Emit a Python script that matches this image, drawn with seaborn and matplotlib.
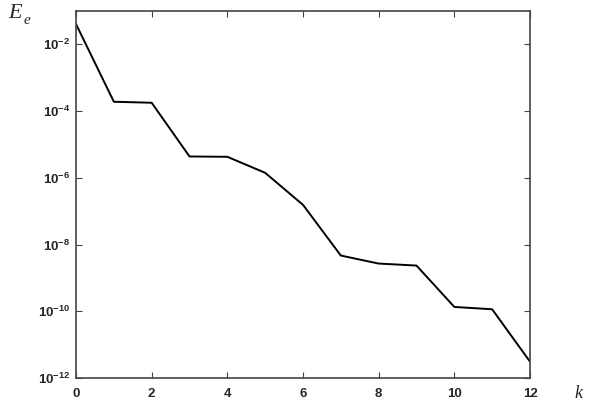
import matplotlib
matplotlib.use('Agg')
import matplotlib.pyplot as plt
import seaborn as sns
import pandas as pd
import numpy as np

# valores (log10 del error)
k_values = [0, 1, 2, 3, 4, 5, 6, 7, 8, 9, 10, 11, 12]
log_error = [-1.39, -3.72, -3.75, -5.36, -5.37, -5.85, -6.81,
             -8.33, -8.57, -8.63, -9.87, -9.94, -11.51]
y_ticks = [1e-12, 1e-10, 1e-8, 1e-6, 1e-4, 1e-2]
y_tick_labels = ['10$^{-12}$', '10$^{-10}$', '10$^{-8}$', '10$^{-6}$', '10$^{-4}$', '10$^{-2}$']
x_ticks = [0, 2, 4, 6, 8, 10, 12]

data = pd.DataFrame({'k': k_values, 'Ee': np.power(10.0, log_error)})

sns.set_style('white')
plt.rcParams['font.family'] = ['Liberation Sans', 'DejaVu Sans']
plt.rcParams['mathtext.fontset'] = 'custom'
plt.rcParams['mathtext.rm'] = 'Liberation Sans:bold'
plt.rcParams['mathtext.default'] = 'rm'

fig = plt.figure(figsize=(5.96, 4.05), dpi=100)
ax = fig.add_axes([76 / 596, 1 - 378 / 405, (530 - 76) / 596, (378 - 11) / 405])

sns.lineplot(data=data, x='k', y='Ee', color='black', linewidth=1.4, ax=ax)
ax.set_yscale('log')
ax.set_xlim(0, 12)
ax.set_ylim(1e-12, 10 ** -1.0)

ax.set_xticks(x_ticks)
ax.set_xticklabels([str(v) for v in x_ticks], fontsize=9.5, fontweight='bold')
ax.set_yticks(y_ticks)
ax.set_yticklabels(y_tick_labels, fontsize=9.5, fontweight='bold')
ax.yaxis.set_minor_locator(matplotlib.ticker.NullLocator())
ax.tick_params(direction='in', length=4, width=0.8, color='#444444',
               top=True, right=True, bottom=True, left=True)
ax.tick_params(axis='x', pad=7)
ax.tick_params(axis='y', pad=4)
for s in ax.spines.values():
    s.set_color('#444444')
    s.set_linewidth(1.2)

ax.set_xlabel('')
ax.set_ylabel('')
# etiquetas de ejes en cursiva
fig.text(8 / 596, 1 - 14 / 405, 'E', fontsize=16, ha='left', va='center',
         family='Liberation Serif', style='italic')
fig.text(24 / 596, 1 - 20 / 405, 'e', fontsize=11, ha='left', va='center',
         family='Liberation Serif', style='italic')
fig.text(578 / 596, 1 - 393 / 405, 'k', fontsize=13, ha='center', va='center',
         family='Liberation Serif', style='italic')

fig.savefig('out.png', dpi=100)
